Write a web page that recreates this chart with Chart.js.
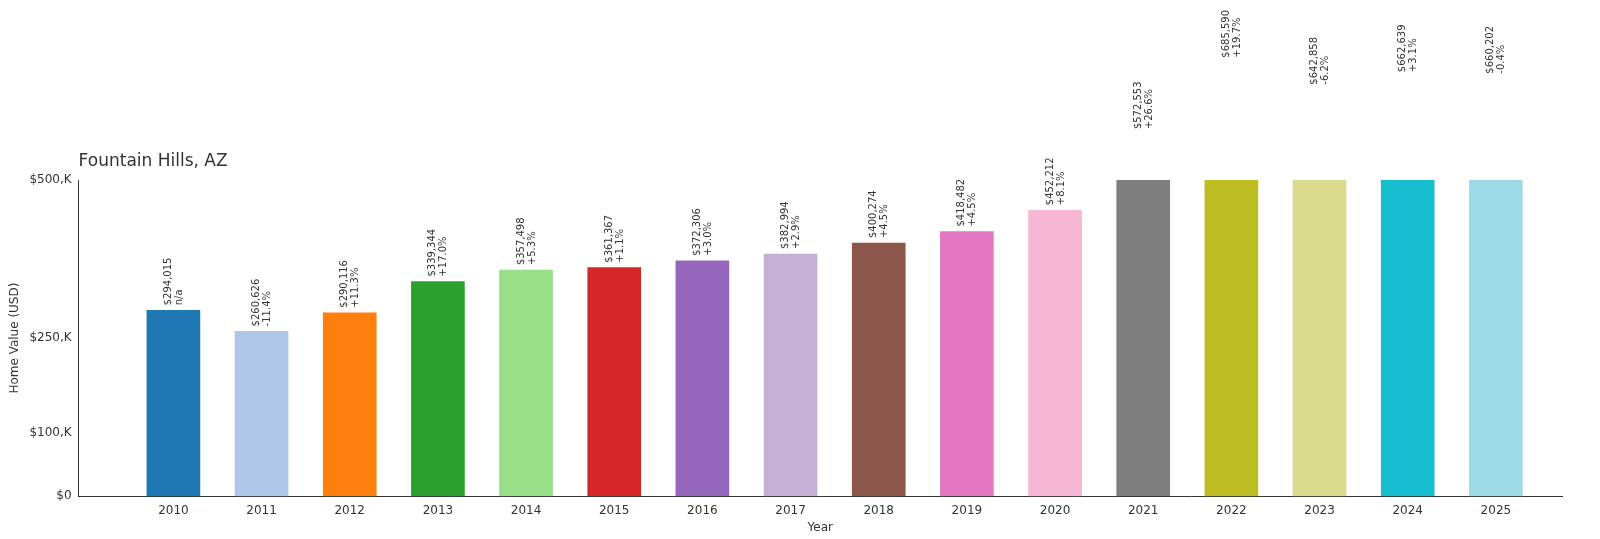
<!DOCTYPE html>
<html lang="en">
<head>
<meta charset="UTF-8">
<title>Fountain Hills, AZ</title>
<script src="https://cdn.jsdelivr.net/npm/chart.js"></script>
<style>
  body { margin: 0; background: #fff; }
</style>
</head>
<body>
<canvas id="chart" width="1600" height="539"></canvas>
<script>
// data
var years = [2010, 2011, 2012, 2013, 2014, 2015, 2016, 2017, 2018, 2019, 2020, 2021, 2022, 2023, 2024, 2025];
var values = [294015, 260626, 290116, 339344, 357498, 361367, 372306, 382994, 400274, 418482, 452212, 572553, 685590, 642858, 662639, 660202];
var changes = ['n/a', '-11.4%', '+11.3%', '+17.0%', '+5.3%', '+1.1%', '+3.0%', '+2.9%', '+4.5%', '+4.5%', '+8.1%', '+26.6%', '+19.7%', '-6.2%', '+3.1%', '-0.4%'];
var yTicks = [0, 100000, 250000, 500000];
var colors = ['#1f77b4', '#aec7e8', '#ff7f0e', '#2ca02c', '#98df8a', '#d62728', '#9467bd', '#c5b0d5',
              '#8c564b', '#e377c2', '#f7b6d2', '#7f7f7f', '#bcbd22', '#dbdb8d', '#17becf', '#9edae5'];

// value labels + title, drawn outside the clip area
var labelPlugin = {
    id: 'labels',
    afterDraw: function(chart) {
        var ctx = chart.ctx;
        var xs = chart.scales.x, ys = chart.scales.y;
        ctx.save();
        ctx.fillStyle = '#333';
        ctx.font = '17px "DejaVu Sans"';
        ctx.textAlign = 'left';
        ctx.textBaseline = 'alphabetic';
        ctx.fillText('Fountain Hills, AZ', chart.chartArea.left, 166);
        ctx.font = '10px "DejaVu Sans"';
        for (var i = 0; i < years.length; i++) {
            var x = xs.getPixelForValue(years[i]);
            var y = ys.getPixelForValue(values[i]) - 5;
            ctx.save();
            ctx.translate(x, y);
            ctx.rotate(-Math.PI / 2);
            ctx.textAlign = 'left';
            ctx.textBaseline = 'middle';
            ctx.fillText('$' + values[i].toLocaleString('en-US'), 0, -5);
            ctx.fillText(changes[i], 0, 6);
            ctx.restore();
        }
        ctx.restore();
    }
};

var chart = new Chart(document.getElementById('chart'), {
    type: 'bar',
    data: {
        datasets: [{
            data: years.map(function(y, i) { return { x: y, y: values[i] }; }),
            backgroundColor: colors,
            barThickness: 53
        }]
    },
    options: {
        responsive: false,
        animation: false,
        layout: { padding: { top: 180, right: 38, bottom: 4, left: 4 } },
        plugins: { legend: { display: false }, tooltip: { enabled: false } },
        scales: {
            x: {
                type: 'linear',
                offset: false,
                min: 2008.925,
                max: 2025.75,
                grid: { display: false, drawTicks: true, tickLength: 4 },
                border: { color: '#333' },
                afterBuildTicks: function(axis) { axis.ticks = years.map(function(v) { return { value: v }; }); },
                ticks: {
                    color: '#333',
                    font: { size: 12, family: 'DejaVu Sans' },
                    callback: function(v) { return String(v); },
                    maxRotation: 0, autoSkip: false
                },
                title: { display: true, text: 'Year', color: '#333', font: { size: 12, family: 'DejaVu Sans' }, padding: 0 }
            },
            y: {
                min: 0,
                max: 500000,
                grid: { display: false, tickLength: 4 },
                border: { color: '#333' },
                afterBuildTicks: function(axis) { axis.ticks = yTicks.map(function(v) { return { value: v }; }); },
                ticks: {
                    color: '#333',
                    font: { size: 12, family: 'DejaVu Sans' },
                    callback: function(v) { return v === 0 ? '$0' : '$' + (v / 1000) + ',K'; }
                },
                title: { display: true, text: 'Home Value (USD)', color: '#333', font: { size: 12, family: 'DejaVu Sans' }, padding: 4 }
            }
        }
    },
    plugins: [labelPlugin]
});
</script>
</blockquote>
</body>
</html>
